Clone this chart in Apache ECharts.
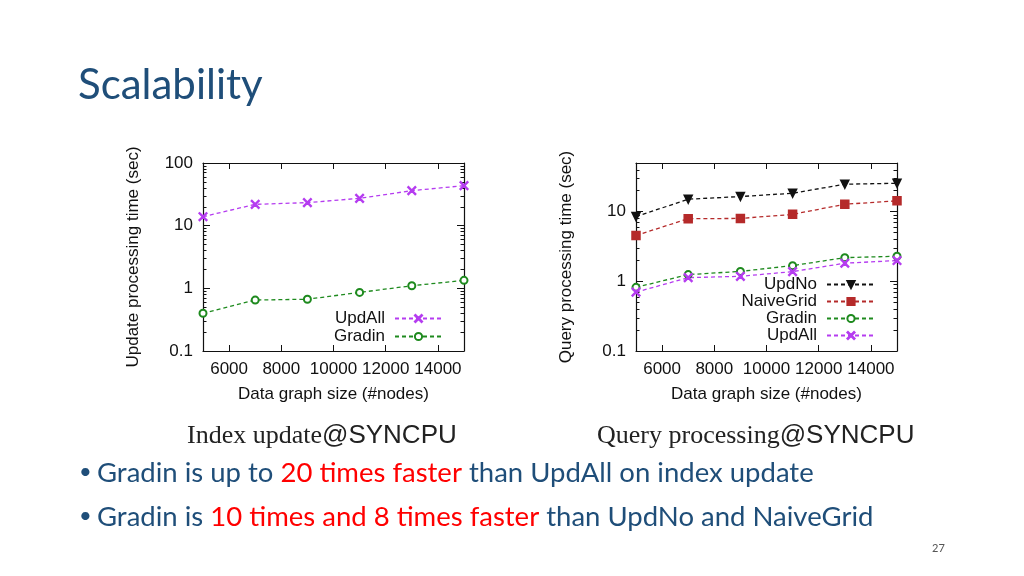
<!DOCTYPE html>
<html><head><meta charset="utf-8">
<script src="https://cdn.jsdelivr.net/npm/echarts@6/dist/echarts.min.js"></script>
<style>html,body{margin:0;padding:0;background:#fff}#c{width:1024px;height:576px}</style>
</head><body><div id="c"></div>
<script>
// ---- data ----
const sizes = [5000, 7000, 9000, 11000, 13000, 15000];
const xTicks = [6000, 8000, 10000, 12000, 14000];
// Index update (left)
const updAllUpdate = [13.9, 21.9, 23.3, 27.3, 36.2, 43.5];
const gradinUpdate = [0.40, 0.65, 0.67, 0.86, 1.10, 1.34];
// Query processing (right)
const updNoQuery = [8.5, 15.1, 16.5, 18.4, 24.8, 25.6];
const naiveGridQuery = [4.56, 7.93, 8.0, 9.15, 12.8, 14.3];
const gradinQuery = [0.82, 1.25, 1.39, 1.68, 2.19, 2.29];
const updAllQuery = [0.70, 1.13, 1.18, 1.38, 1.82, 1.99];
const leftYTicks = [0.1, 1, 10, 100];
const rightYTicks = [0.1, 1, 10];
const leftMinor = [0.2,0.3,0.4,0.5,0.6,0.7,0.8,0.9,2,3,4,5,6,7,8,9,20,30,40,50,60,70,80,90];
const rightMinor = [0.2,0.3,0.4,0.5,0.6,0.7,0.8,0.9,2,3,4,5,6,7,8,9,20,30,40];

const C = {upd:'#b53cf0', gra:'#1e8a1e', naive:'#b52a2a', no:'#111111'};
const X_SYM = 'path://M0,0.8 L0.8,0 L5,4.2 L9.2,0 L10,0.8 L5.8,5 L10,9.2 L9.2,10 L5,5.8 L0.8,10 L0,9.2 L4.2,5 Z';
const FONT = 'Liberation Sans';
const axisTxt = {color:'#111', fontFamily:FONT, fontSize:17};
const lineAxis = {lineStyle:{color:'#111', width:1.2}};
const plain = v => String(v);

function xAxes(gi){
  return [
    {gridIndex:gi, type:'value', min:5000, max:15000, position:'bottom',
     name:'Data graph size (#nodes)', nameLocation:'middle', nameGap:35, nameTextStyle:axisTxt,
     axisLine:lineAxis, splitLine:{show:false},
     axisTick:{inside:true, length:6, customValues:xTicks, lineStyle:{color:'#111'}},
     axisLabel:Object.assign({margin:10, customValues:xTicks, formatter:plain}, axisTxt)},
    {gridIndex:gi, type:'value', min:5000, max:15000, position:'top',
     axisLine:lineAxis, splitLine:{show:false},
     axisTick:{inside:true, length:6, customValues:xTicks, lineStyle:{color:'#111'}},
     axisLabel:{show:false}}
  ];
}
function yAxes(gi, max, ticks, minor, title){
  const base = {gridIndex:gi, type:'log', logBase:10, min:0.1, max:max, splitLine:{show:false}};
  return [
    Object.assign({}, base, {position:'left', name:title, nameLocation:'middle', nameGap:61,
      nameTextStyle:axisTxt, axisLine:lineAxis,
      axisTick:{inside:true, length:7, customValues:ticks, lineStyle:{color:'#111'}},
      axisLabel:Object.assign({margin:10, customValues:ticks, formatter:plain}, axisTxt)}),
    Object.assign({}, base, {position:'left', axisLine:{show:false},
      axisTick:{inside:true, length:3.5, customValues:minor, lineStyle:{color:'#111'}},
      axisLabel:{show:false}}),
    Object.assign({}, base, {position:'right', axisLine:lineAxis,
      axisTick:{inside:true, length:7, customValues:ticks, lineStyle:{color:'#111'}},
      axisLabel:{show:false}}),
    Object.assign({}, base, {position:'right', axisLine:{show:false},
      axisTick:{inside:true, length:3.5, customValues:minor, lineStyle:{color:'#111'}},
      axisLabel:{show:false}})
  ];
}
function mk(name, vals, col, sym, gi, extra){
  const xi = gi*2, yi = gi*4;
  return Object.assign({
    name:name, type:'line', xAxisIndex:xi, yAxisIndex:yi,
    data: sizes.map((s,i)=>[s, vals[i]]),
    symbol:sym, symbolSize:8, showAllSymbol:true,
    lineStyle:{color:col, width:1.3, type:[4,3]},
    itemStyle:{color:col, borderColor:col, borderWidth:1.5},
    emphasis:{disabled:true}, animation:false
  }, extra||{});
}

const chart = echarts.init(document.getElementById('c'), null, {renderer:'canvas'});
const blue = '#1f4e79', red = '#ff0000';
const bFont = 'Lato';
const legTxt = Object.assign({padding:[0,5,0,0], lineHeight:17}, axisTxt);
const option = {
  backgroundColor:'#ffffff',
  animation:false,
  grid:[
    {left:203, top:163, width:261, height:188},
    {left:636, top:163, width:261, height:188}
  ],
  xAxis:[].concat(xAxes(0), xAxes(1)),
  yAxis:[].concat(
    yAxes(0, 100, leftYTicks, leftMinor, 'Update processing time (sec)'),
    yAxes(1, 50, rightYTicks, rightMinor, 'Query processing time (sec)')),
  legend:[
    {data:['UpdAll','Gradin'], orient:'vertical', align:'right', right:581, top:310, padding:0,
     itemWidth:47, itemHeight:9, itemGap:1, textStyle:legTxt, selectedMode:false},
    {data:['UpdNo','NaiveGrid','Gradin','UpdAll'], orient:'vertical', align:'right', right:148, top:276, padding:0,
     itemWidth:48, itemHeight:9, itemGap:0, textStyle:legTxt, selectedMode:false}
  ],
  series:[
    mk('UpdAll', updAllUpdate, C.upd, X_SYM, 0, {symbolSize:8}),
    mk('Gradin', gradinUpdate, C.gra, 'emptyCircle', 0, {symbolSize:7}),
    mk('UpdNo', updNoQuery, C.no, 'triangle', 1, {symbolRotate:180}),
    mk('NaiveGrid', naiveGridQuery, C.naive, 'rect', 1),
    mk('Gradin', gradinQuery, C.gra, 'emptyCircle', 1, {symbolSize:7}),
    mk('UpdAll', updAllQuery, C.upd, X_SYM, 1, {symbolSize:8})
  ],
  graphic:[
    {type:'text', left:78, top:64, style:{text:'Scalability', fill:blue, font:'42px Lato'}},
    {type:'text', left:187, top:423, style:{
      text:'{s|Index update}{a|@SYNCPU}',
      rich:{s:{fill:'#222', fontFamily:'Liberation Serif', fontSize:26},
            a:{fill:'#222', fontFamily:FONT, fontSize:26}}}},
    {type:'text', left:597, top:423, style:{
      text:'{s|Query processing}{a|@SYNCPU}',
      rich:{s:{fill:'#222', fontFamily:'Liberation Serif', fontSize:26},
            a:{fill:'#222', fontFamily:FONT, fontSize:26}}}},
    {type:'text', left:79, top:461, style:{text:'•', fill:blue, font:'22px Lato'}},
    {type:'text', left:97, top:459, style:{
      text:'{b|Gradin is up to }{r|20 times faster}{b| than UpdAll on index update}',
      rich:{b:{fill:blue, fontFamily:bFont, fontSize:27.5}, r:{fill:red, fontFamily:bFont, fontSize:27.5}}}},
    {type:'text', left:79, top:505, style:{text:'•', fill:blue, font:'22px Lato'}},
    {type:'text', left:97, top:503, style:{
      text:'{b|Gradin is }{r|10 times and 8 times faster}{b| than UpdNo and NaiveGrid}',
      rich:{b:{fill:blue, fontFamily:bFont, fontSize:27.5}, r:{fill:red, fontFamily:bFont, fontSize:27.5}}}},
    {type:'text', left:932, top:543, style:{text:'27', fill:'#555', font:'11px Lato'}}
  ]
};
chart.setOption(option);
</script></body></html>
